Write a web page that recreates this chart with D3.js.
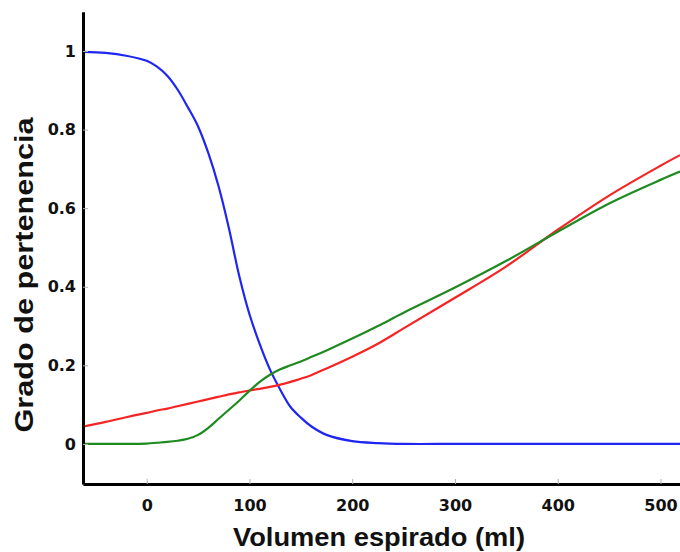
<!DOCTYPE html>
<html>
<head>
<meta charset="utf-8">
<script src="https://cdn.jsdelivr.net/npm/d3@7"></script>
<style>
  html, body { margin: 0; padding: 0; background: #fff; }
  svg { display: block; font-family: "Liberation Sans", Arial, sans-serif; }
</style>
</head>
<body>
<div id="chart"></div>
<script>
// volumen espirado (ml)
const volumes = [-62, -40, -20, 0, 10, 20, 30, 40, 50, 60, 70, 80, 90, 100, 110, 120, 130, 140, 150, 160, 175, 200, 225, 250, 300, 350, 400, 450, 500, 519];

// grado de pertenencia per conjunto
const blueValues = [0.998, 0.995, 0.988, 0.975, 0.960, 0.937, 0.902, 0.857, 0.808, 0.740, 0.655, 0.549, 0.428, 0.330, 0.254, 0.189, 0.138, 0.094, 0.067, 0.045, 0.023, 0.007, 0.002, 0, 0, 0, 0, 0, 0, 0];
const greenValues = [0, 0, 0, 0.001, 0.003, 0.005, 0.008, 0.013, 0.023, 0.041, 0.064, 0.087, 0.110, 0.135, 0.158, 0.176, 0.190, 0.200, 0.210, 0.221, 0.238, 0.268, 0.300, 0.334, 0.398, 0.466, 0.540, 0.612, 0.672, 0.693];
const redValues = [0.044, 0.056, 0.068, 0.079, 0.085, 0.090, 0.096, 0.102, 0.108, 0.114, 0.120, 0.126, 0.131, 0.136, 0.140, 0.145, 0.151, 0.158, 0.166, 0.175, 0.192, 0.222, 0.255, 0.294, 0.372, 0.452, 0.545, 0.632, 0.708, 0.735];

const xTicks = [0, 100, 200, 300, 400, 500];
const yTicks = [0, 0.2, 0.4, 0.6, 0.8, 1];

const xTitle = "Volumen espirado (ml)";
const yTitle = "Grado de pertenencia";

const width = 680;
const height = 552;

const svg = d3.select("#chart")
  .append("svg")
  .attr("width", width)
  .attr("height", height);

const x = d3.scaleLinear().domain([-62, 519]).range([83, 680]);
const y = d3.scaleLinear().domain([-0.102, 1.1]).range([484, 11.7]);

// curves
const series = [
  { values: blueValues, color: "#1f26f2" },
  { values: redValues, color: "#f52424" },
  { values: greenValues, color: "#1f8a1f" }
];

const line = d3.line()
  .x((d) => x(d[0]))
  .y((d) => y(d[1]))
  .curve(d3.curveCatmullRom.alpha(0.5));

svg.append("g")
  .selectAll("path.serie")
  .data(series)
  .join("path")
  .attr("class", "serie")
  .attr("fill", "none")
  .attr("stroke", (d) => d.color)
  .attr("stroke-width", 2.2)
  .attr("d", (d) => line(volumes.map((v, i) => [v, d.values[i]])));

// axes
const xAxis = svg.append("g")
  .attr("transform", `translate(0,${y.range()[0]})`)
  .call(d3.axisBottom(x).tickValues(xTicks).tickSize(-5).tickSizeOuter(0).tickPadding(16).tickFormat(d3.format("d")));

const yAxis = svg.append("g")
  .attr("transform", `translate(${x.range()[0]},0)`)
  .call(d3.axisLeft(y).tickValues(yTicks).tickSize(-5).tickSizeOuter(0).tickPadding(7).tickFormat(d3.format("~g")));

[xAxis, yAxis].forEach((a) => {
  a.select(".domain").attr("stroke", "#000").attr("stroke-width", 3);
  a.selectAll(".tick line").attr("stroke", "#b0b0b0").attr("stroke-width", 1);
  a.selectAll(".tick text")
    .attr("fill", "#111")
    .style("font-family", "'DejaVu Sans', sans-serif")
    .style("font-size", "16px")
    .style("font-weight", "bold");
});

// titles
svg.append("text")
  .attr("x", 379)
  .attr("y", 546)
  .attr("text-anchor", "middle")
  .attr("textLength", 292)
  .attr("lengthAdjust", "spacingAndGlyphs")
  .style("font-size", "26px")
  .style("font-weight", "bold")
  .attr("fill", "#111")
  .text(xTitle);

svg.append("text")
  .attr("transform", "translate(33,275) rotate(-90)")
  .attr("text-anchor", "middle")
  .attr("textLength", 315)
  .attr("lengthAdjust", "spacingAndGlyphs")
  .style("font-size", "25px")
  .style("font-weight", "bold")
  .attr("fill", "#111")
  .text(yTitle);
</script>
</body>
</html>
